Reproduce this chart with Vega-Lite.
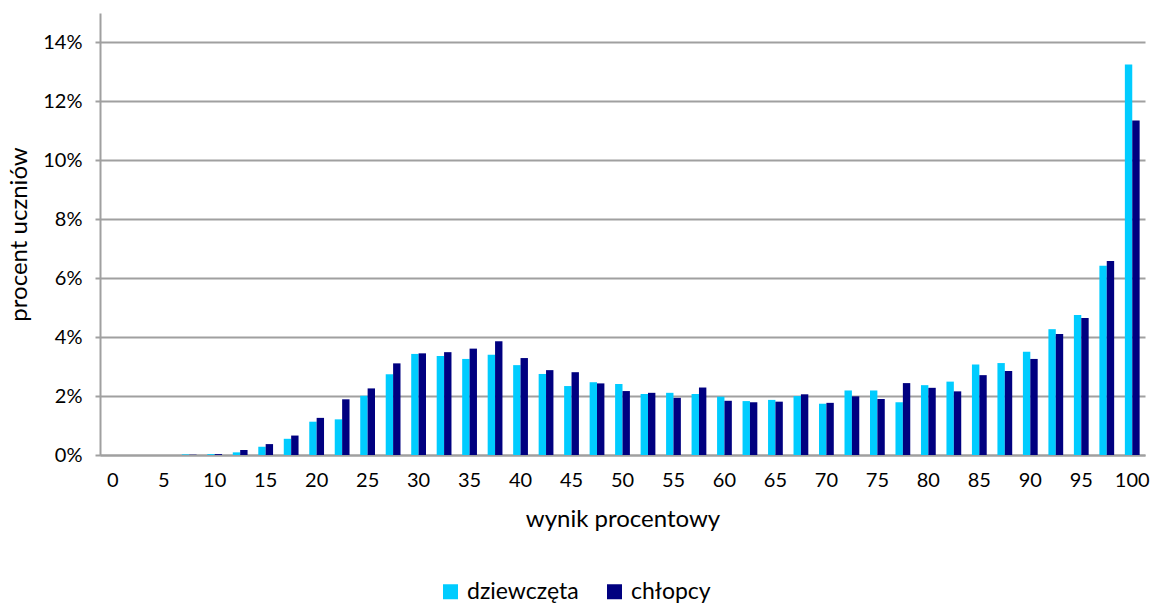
{
  "$schema": "https://vega.github.io/schema/vega-lite/v6.json",
  "width": 1045,
  "height": 442,
  "autosize": "none",
  "padding": {"left": 100, "top": 13, "right": 12, "bottom": 150},
  "background": "white",
  "config": {
    "font": "Lato",
    "view": {"stroke": null},
    "axis": {"labelColor": "#000000", "titleColor": "#000000", "titleFontWeight": "normal", "labelFont": "Lato", "titleFont": "Lato"},
    "legend": {"labelColor": "#000000", "labelFont": "Lato"}
  },
  "data": {
    "values": [
      {"wynik": 0, "plec": "dziewczęta", "procent": 0},
      {"wynik": 0, "plec": "chłopcy", "procent": 0},
      {"wynik": 2.5, "plec": "dziewczęta", "procent": 0},
      {"wynik": 2.5, "plec": "chłopcy", "procent": 0},
      {"wynik": 5, "plec": "dziewczęta", "procent": 0},
      {"wynik": 5, "plec": "chłopcy", "procent": 0},
      {"wynik": 7.5, "plec": "dziewczęta", "procent": 0.0002},
      {"wynik": 7.5, "plec": "chłopcy", "procent": 0.0001},
      {"wynik": 10, "plec": "dziewczęta", "procent": 0.0003},
      {"wynik": 10, "plec": "chłopcy", "procent": 0.0003},
      {"wynik": 12.5, "plec": "dziewczęta", "procent": 0.0009},
      {"wynik": 12.5, "plec": "chłopcy", "procent": 0.0017},
      {"wynik": 15, "plec": "dziewczęta", "procent": 0.0028},
      {"wynik": 15, "plec": "chłopcy", "procent": 0.0037},
      {"wynik": 17.5, "plec": "dziewczęta", "procent": 0.0055},
      {"wynik": 17.5, "plec": "chłopcy", "procent": 0.0066},
      {"wynik": 20, "plec": "dziewczęta", "procent": 0.0113},
      {"wynik": 20, "plec": "chłopcy", "procent": 0.0126},
      {"wynik": 22.5, "plec": "dziewczęta", "procent": 0.0121},
      {"wynik": 22.5, "plec": "chłopcy", "procent": 0.0189},
      {"wynik": 25, "plec": "dziewczęta", "procent": 0.0201},
      {"wynik": 25, "plec": "chłopcy", "procent": 0.0226},
      {"wynik": 27.5, "plec": "dziewczęta", "procent": 0.0274},
      {"wynik": 27.5, "plec": "chłopcy", "procent": 0.0311},
      {"wynik": 30, "plec": "dziewczęta", "procent": 0.0343},
      {"wynik": 30, "plec": "chłopcy", "procent": 0.0345},
      {"wynik": 32.5, "plec": "dziewczęta", "procent": 0.0336},
      {"wynik": 32.5, "plec": "chłopcy", "procent": 0.0349},
      {"wynik": 35, "plec": "dziewczęta", "procent": 0.0326},
      {"wynik": 35, "plec": "chłopcy", "procent": 0.0361},
      {"wynik": 37.5, "plec": "dziewczęta", "procent": 0.034},
      {"wynik": 37.5, "plec": "chłopcy", "procent": 0.0386},
      {"wynik": 40, "plec": "dziewczęta", "procent": 0.0305},
      {"wynik": 40, "plec": "chłopcy", "procent": 0.0329},
      {"wynik": 42.5, "plec": "dziewczęta", "procent": 0.0275},
      {"wynik": 42.5, "plec": "chłopcy", "procent": 0.0288},
      {"wynik": 45, "plec": "dziewczęta", "procent": 0.0234},
      {"wynik": 45, "plec": "chłopcy", "procent": 0.0281},
      {"wynik": 47.5, "plec": "dziewczęta", "procent": 0.0247},
      {"wynik": 47.5, "plec": "chłopcy", "procent": 0.0243},
      {"wynik": 50, "plec": "dziewczęta", "procent": 0.0241},
      {"wynik": 50, "plec": "chłopcy", "procent": 0.0217},
      {"wynik": 52.5, "plec": "dziewczęta", "procent": 0.0207},
      {"wynik": 52.5, "plec": "chłopcy", "procent": 0.0211},
      {"wynik": 55, "plec": "dziewczęta", "procent": 0.0211},
      {"wynik": 55, "plec": "chłopcy", "procent": 0.0194},
      {"wynik": 57.5, "plec": "dziewczęta", "procent": 0.0207},
      {"wynik": 57.5, "plec": "chłopcy", "procent": 0.0229},
      {"wynik": 60, "plec": "dziewczęta", "procent": 0.0198},
      {"wynik": 60, "plec": "chłopcy", "procent": 0.0184},
      {"wynik": 62.5, "plec": "dziewczęta", "procent": 0.0183},
      {"wynik": 62.5, "plec": "chłopcy", "procent": 0.0179},
      {"wynik": 65, "plec": "dziewczęta", "procent": 0.0187},
      {"wynik": 65, "plec": "chłopcy", "procent": 0.0181},
      {"wynik": 67.5, "plec": "dziewczęta", "procent": 0.02},
      {"wynik": 67.5, "plec": "chłopcy", "procent": 0.0206},
      {"wynik": 70, "plec": "dziewczęta", "procent": 0.0174},
      {"wynik": 70, "plec": "chłopcy", "procent": 0.0177},
      {"wynik": 72.5, "plec": "dziewczęta", "procent": 0.0219},
      {"wynik": 72.5, "plec": "chłopcy", "procent": 0.0199},
      {"wynik": 75, "plec": "dziewczęta", "procent": 0.0219},
      {"wynik": 75, "plec": "chłopcy", "procent": 0.019},
      {"wynik": 77.5, "plec": "dziewczęta", "procent": 0.0179},
      {"wynik": 77.5, "plec": "chłopcy", "procent": 0.0244},
      {"wynik": 80, "plec": "dziewczęta", "procent": 0.0237},
      {"wynik": 80, "plec": "chłopcy", "procent": 0.0228},
      {"wynik": 82.5, "plec": "dziewczęta", "procent": 0.0249},
      {"wynik": 82.5, "plec": "chłopcy", "procent": 0.0216},
      {"wynik": 85, "plec": "dziewczęta", "procent": 0.0307},
      {"wynik": 85, "plec": "chłopcy", "procent": 0.0271},
      {"wynik": 87.5, "plec": "dziewczęta", "procent": 0.0312},
      {"wynik": 87.5, "plec": "chłopcy", "procent": 0.0285},
      {"wynik": 90, "plec": "dziewczęta", "procent": 0.035},
      {"wynik": 90, "plec": "chłopcy", "procent": 0.0326},
      {"wynik": 92.5, "plec": "dziewczęta", "procent": 0.0427},
      {"wynik": 92.5, "plec": "chłopcy", "procent": 0.0411},
      {"wynik": 95, "plec": "dziewczęta", "procent": 0.0475},
      {"wynik": 95, "plec": "chłopcy", "procent": 0.0465},
      {"wynik": 97.5, "plec": "dziewczęta", "procent": 0.0642},
      {"wynik": 97.5, "plec": "chłopcy", "procent": 0.0658},
      {"wynik": 100, "plec": "dziewczęta", "procent": 0.1325},
      {"wynik": 100, "plec": "chłopcy", "procent": 0.1135}
    ]
  },
  "mark": {"type": "bar"},
  "encoding": {
    "x": {
      "field": "wynik",
      "type": "ordinal",
      "sort": "ascending",
      "scale": {"paddingInner": 0.42, "paddingOuter": 0.21},
      "axis": {
        "title": "wynik procentowy",
        "titleFontSize": 24,
        "titlePadding": 17,
        "labelFontSize": 20,
        "labelAngle": 0,
        "labelPadding": 15,
        "ticks": false,
        "labelOverlap": false,
        "labelExpr": "datum.value % 5 === 0 ? datum.value : ''",
        "domainColor": "#A0A0A0",
        "domainWidth": 2,
        "grid": false
      }
    },
    "xOffset": {"field": "plec", "type": "nominal", "sort": ["dziewczęta", "chłopcy"], "scale": {"paddingInner": 0, "paddingOuter": 0}},
    "y": {
      "field": "procent",
      "type": "quantitative",
      "scale": {"domain": [0, 0.15], "nice": false},
      "axis": {
        "title": "procent uczniów",
        "titleFontSize": 24,
        "titlePadding": 11,
        "labelFontSize": 20,
        "labelPadding": 13,
        "values": [0, 0.02, 0.04, 0.06, 0.08, 0.1, 0.12, 0.14],
        "format": ".0%",
        "tickSize": 5,
        "tickColor": "#A0A0A0",
        "tickWidth": 2,
        "domainColor": "#A0A0A0",
        "domainWidth": 2,
        "grid": true,
        "gridColor": "#A0A0A0",
        "gridWidth": 2
      }
    },
    "color": {
      "field": "plec",
      "type": "nominal",
      "sort": ["dziewczęta", "chłopcy"],
      "scale": {"domain": ["dziewczęta", "chłopcy"], "range": ["#00CCFF", "#000080"]},
      "legend": {
        "title": null,
        "orient": "none",
        "direction": "horizontal",
        "legendX": 339,
        "legendY": 567,
        "symbolType": "square",
        "symbolSize": 225,
        "symbolStrokeWidth": 0,
        "labelFontSize": 23,
        "columnPadding": 24,
        "labelOffset": 5
      }
    }
  }
}
